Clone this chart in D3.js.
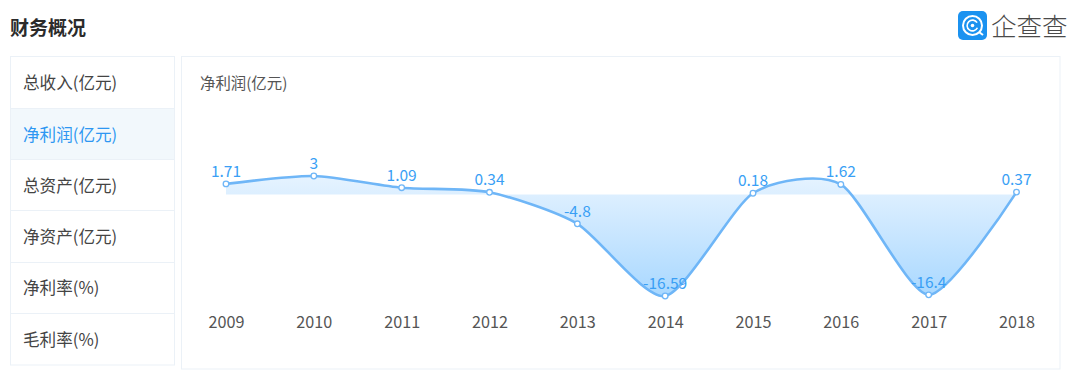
<!DOCTYPE html>
<html>
<head>
<meta charset="utf-8">
<script src="https://cdn.jsdelivr.net/npm/d3@7"></script>
<style>
  html, body { margin: 0; padding: 0; background: #fff; }
  text { font-family: "Noto Sans CJK SC", sans-serif; }
</style>
</head>
<body>
<div id="chart"></div>
<script>
const years = ["2009", "2010", "2011", "2012", "2013", "2014", "2015", "2016", "2017", "2018"];
const profit = [1.71, 3, 1.09, 0.34, -4.8, -16.59, 0.18, 1.62, -16.4, 0.37];
const menuItems = ["总收入(亿元)", "净利润(亿元)", "总资产(亿元)", "净资产(亿元)", "净利率(%)", "毛利率(%)"];
const activeItem = 1;
const pageTitle = "财务概况";
const chartTitle = "净利润(亿元)";
const brandName = "企查查";

const svg = d3.select("#chart").append("svg")
    .attr("width", 1080)
    .attr("height", 375)
    .style("display", "block");

// title
svg.append("text")
    .attr("x", 10).attr("y", 35)
    .attr("font-size", 19).attr("font-weight", 700).attr("fill", "#2b2b2b")
    .text(pageTitle);

// logo
const logo = svg.append("g").attr("transform", "translate(958,11)");
logo.append("rect").attr("width", 29).attr("height", 29).attr("rx", 5).attr("fill", "#1b92f0");
logo.append("circle").attr("cx", 14.5).attr("cy", 14.5).attr("r", 9.5)
    .attr("fill", "none").attr("stroke", "#fff").attr("stroke-width", 2);
logo.append("path").attr("d", d3.arc()({innerRadius: 4.6, outerRadius: 6.2, startAngle: 2.0, endAngle: 7.3}))
    .attr("transform", "translate(14.5,14.5)").attr("fill", "#fff");
logo.append("circle").attr("cx", 14.5).attr("cy", 14.5).attr("r", 1.8).attr("fill", "#fff");
logo.append("line").attr("x1", 21).attr("y1", 21).attr("x2", 25).attr("y2", 24)
    .attr("stroke", "#fff").attr("stroke-width", 2);
svg.append("text")
    .attr("x", 991).attr("y", 36)
    .attr("font-size", 25.5).attr("font-weight", 300).attr("fill", "#4a4a4a")
    .text(brandName);

// left menu
const borderColor = "#ebf1f7";
const rowY = d3.scaleBand().domain(d3.range(menuItems.length)).range([57, 364.5]);
const menu = svg.append("g");
menu.append("rect")
    .attr("x", 10.5).attr("y", 56.5).attr("width", 164).attr("height", 308.5)
    .attr("fill", "#fff").attr("stroke", borderColor);
const rows = menu.selectAll("g").data(menuItems).enter().append("g");
rows.append("rect")
    .attr("x", 11).attr("y", (d, i) => Math.floor(rowY(i)))
    .attr("width", 163).attr("height", 51)
    .attr("fill", (d, i) => i === activeItem ? "#f2f8fc" : "none");
rows.filter((d, i) => i > 0).append("line")
    .attr("x1", 11).attr("x2", 174)
    .attr("y1", (d, i) => Math.floor(rowY(i + 1)) + 0.5)
    .attr("y2", (d, i) => Math.floor(rowY(i + 1)) + 0.5)
    .attr("stroke", borderColor);
rows.append("text")
    .attr("x", 23).attr("y", (d, i) => rowY(i) + rowY.bandwidth() / 2 + 6.8)
    .attr("font-size", 16.6)
    .attr("fill", (d, i) => i === activeItem ? "#2e97f2" : "#444")
    .text(d => d);

// chart panel
svg.append("rect")
    .attr("x", 181.5).attr("y", 56.5).attr("width", 878.5).attr("height", 312.5)
    .attr("fill", "#fff").attr("stroke", borderColor);
svg.append("text")
    .attr("x", 200).attr("y", 89)
    .attr("font-size", 15.4).attr("fill", "#555")
    .text(chartTitle);

const x = d3.scalePoint().domain(years).range([226, 1016.5]);
const y = d3.scaleLinear().domain([-16.59, 3]).range([296, 176]);

const points = years.map((d, i) => ({year: d, value: profit[i]}));
const curve = d3.curveCardinal.tension(0.3);

const defs = svg.append("defs");
const grad = defs.append("linearGradient")
    .attr("id", "areaFill")
    .attr("gradientUnits", "userSpaceOnUse")
    .attr("x1", 0).attr("x2", 0)
    .attr("y1", y(3)).attr("y2", y(-16.59));
grad.append("stop").attr("offset", 0).attr("stop-color", "#e6f3ff");
grad.append("stop").attr("offset", 1).attr("stop-color", "#a9d8ff");

svg.append("path").datum(points)
    .attr("fill", "url(#areaFill)")
    .attr("d", d3.area().curve(curve)
        .x(d => x(d.year)).y0(y(0)).y1(d => y(d.value)));

svg.append("path").datum(points)
    .attr("fill", "none")
    .attr("stroke", "#6fb6f7")
    .attr("stroke-width", 2.6)
    .attr("d", d3.line().curve(curve)
        .x(d => x(d.year)).y(d => y(d.value)));

svg.append("g").selectAll("circle").data(points).enter().append("circle")
    .attr("cx", d => x(d.year)).attr("cy", d => y(d.value)).attr("r", 2.8)
    .attr("fill", "#fff").attr("stroke", "#6fb6f7").attr("stroke-width", 1.3);

svg.append("g").selectAll("text").data(points).enter().append("text")
    .attr("x", d => x(d.year)).attr("y", d => y(d.value) - 7)
    .attr("text-anchor", "middle")
    .attr("font-size", 15.5).attr("fill", "#3a9ff5")
    .text(d => d.value);

// x axis labels, no line or ticks
const axis = svg.append("g").attr("transform", "translate(0,327.5)")
    .call(d3.axisBottom(x).tickSize(0).tickPadding(0));
axis.select(".domain").remove();
axis.selectAll("text")
    .attr("dy", 0)
    .attr("font-size", 16.2)
    .style("font-family", '"Noto Sans CJK SC", sans-serif')
    .attr("fill", "#555");
</script>
</body>
</html>
